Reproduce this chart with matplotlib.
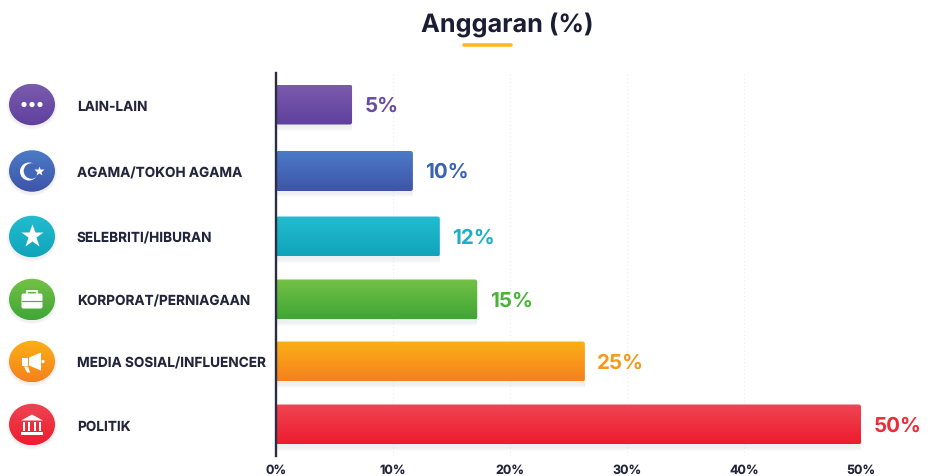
import matplotlib
matplotlib.use('Agg')
import matplotlib.pyplot as plt
import numpy as np
from matplotlib.colors import LinearSegmentedColormap
from matplotlib.patches import Ellipse, FancyBboxPatch, Circle, Polygon, Rectangle

W, H = 930, 477

categories = ['LAIN-LAIN', 'AGAMA/TOKOH AGAMA', 'SELEBRITI/HIBURAN',
              'KORPORAT/PERNIAGAAN', 'MEDIA SOSIAL/INFLUENCER', 'POLITIK']
# bars are not quite to scale in the original, so lengths and labels differ
bar_lengths = [6.5, 11.7, 14.0, 17.2, 26.4, 50.0]
value_labels = ['5%', '10%', '12%', '15%', '25%', '50%']
x_ticks = [0, 10, 20, 30, 40, 50]
x_tick_labels = ['0%', '10%', '20%', '30%', '40%', '50%']

# layout, in pixels of the reference
row_y = [105.5, 172, 237.5, 300.5, 362.5, 425.5]
top_colors = ['#7a5bad', '#4b7bc6', '#22bccf', '#74c145', '#fbb015', '#ef4553']
bottom_colors = ['#5f409e', '#3f54a8', '#10a4ba', '#3fa636', '#f5811f', '#ec1c2e']
label_colors = ['#6a4ba3', '#3a62b4', '#1cb0c8', '#4cb339', '#f6981c', '#ee2c37']
DARK = '#23263b'
WHITE = 'white'
PX_PER_UNIT = (861 - 276) / 50

plt.rcParams['font.family'] = ['Inter', 'DejaVu Sans']
plt.rcParams['text.hinting'] = 'no_hinting'


def gradient_fill(ax, patch, extent, top, bottom, zorder):
    cmap = LinearSegmentedColormap.from_list('g', [top, bottom])
    grad = np.linspace(0, 1, 64).reshape(-1, 1)
    im = ax.imshow(grad, cmap=cmap, extent=extent, aspect='auto',
                   origin='upper', zorder=zorder, interpolation='bilinear')
    im.set_clip_path(patch)


def draw_icon(ax, i, cx, cy):
    z = 5
    if i == 0:
        for dx in (-8, 0, 8):
            ax.add_patch(Circle((cx + dx, cy), 2.6, fc=WHITE, ec='none', zorder=z))
    elif i == 1:
        ax.add_patch(Circle((cx - 3, cy + 0.5), 9, fc=WHITE, ec='none', zorder=z))
        ax.add_patch(Circle((cx - 0.5, cy), 7.8, fc='#4468b8', ec='none', zorder=z))
        ax.plot(cx + 7, cy, marker='*', ms=7, mfc=WHITE, mec='none', zorder=z)
    elif i == 2:
        ax.plot(cx, cy - 0.5, marker='*', ms=17, mfc=WHITE, mec='none', zorder=z)
    elif i == 3:
        ax.add_patch(FancyBboxPatch((cx - 10.5, cy - 6), 21, 15, boxstyle='round,pad=0,rounding_size=2',
                                    fc=WHITE, ec='none', zorder=z))
        ax.add_patch(Rectangle((cx - 5, cy - 9), 10, 4, fc='none', ec=WHITE, lw=1.3, zorder=z))
        ax.plot([cx - 10.5, cx + 10.5], [cy + 1, cy + 1], color='#55b23d', lw=0.9, zorder=z + 1)
    elif i == 4:
        ax.add_patch(Polygon([(cx - 3, cy - 4), (cx + 9, cy - 9), (cx + 9, cy + 9), (cx - 3, cy + 4)],
                             fc=WHITE, ec='none', zorder=z))
        ax.add_patch(Rectangle((cx - 10, cy - 4), 6, 8, fc=WHITE, ec='none', zorder=z))
        ax.add_patch(Polygon([(cx - 8, cy + 5), (cx - 4, cy + 5), (cx - 2, cy + 11), (cx - 5, cy + 11)],
                             fc=WHITE, ec='none', zorder=z))
        ax.add_patch(Circle((cx + 11, cy), 1.6, fc=WHITE, ec='none', zorder=z))
    else:
        ax.add_patch(Polygon([(cx - 11, cy - 4), (cx, cy - 10), (cx + 11, cy - 4)],
                             fc=WHITE, ec='none', zorder=z))
        for dx in (-8, -3, 3, 8):
            ax.add_patch(Rectangle((cx + dx - 1.2, cy - 3), 2.4, 9, fc=WHITE, ec='none', zorder=z))
        ax.add_patch(Rectangle((cx - 11, cy + 7), 22, 3, fc=WHITE, ec='none', zorder=z))


fig = plt.figure(figsize=(W / 100, H / 100), dpi=100, facecolor='white')

# pixel overlay for the title and the round icons
ax_px = fig.add_axes([0, 0, 1, 1], zorder=1)
ax_px.axis('off')

ax_px.text(507, 24.5, 'Anggaran (%)', ha='center', va='center', fontsize=18.2,
           fontweight='bold', color='#1a1d33')
ax_px.plot([464, 511], [45.5, 45.5], color='#fbb91f', lw=2.6, solid_capstyle='round')

for i, y in enumerate(row_y):
    for k in range(1, 6):
        ax_px.add_patch(Ellipse((32, y + 2), 46 + k, 41 + k, fc='#8a8f9c', ec='none', alpha=0.025, zorder=1))
    oval = Ellipse((32, y), 46, 41.5, fc='none', ec='none', zorder=2)
    ax_px.add_patch(oval)
    gradient_fill(ax_px, oval, (9, 55, y + 21, y - 21), top_colors[i], bottom_colors[i], 3)
    draw_icon(ax_px, i, 32, y)

ax_px.set_xlim(0, W)
ax_px.set_ylim(H, 0)

# main chart, y axis kept in reference pixels so the rows land where they should
ax = fig.add_axes([276 / W, 1 - 457 / H, (861 - 276) / W, (457 - 74) / H], zorder=2)
ax.patch.set_alpha(0)

bars = ax.barh(row_y, bar_lengths, height=40, color='none', zorder=3)
for i, bar in enumerate(bars):
    x0, y0, w, h = bar.get_x(), bar.get_y(), bar.get_width(), bar.get_height()
    for k in range(1, 5):
        ax.add_patch(Rectangle((x0, y0 + 2), w, h + k, fc='#70757f', ec='none',
                               alpha=0.022, zorder=2))
    shape = FancyBboxPatch((x0, y0), w, h, boxstyle='round,pad=0,rounding_size=0.2',
                           mutation_aspect=PX_PER_UNIT, fc='none', ec='none', zorder=2)
    ax.add_patch(shape)
    gradient_fill(ax, shape, (x0, x0 + w, y0 + h, y0), top_colors[i], bottom_colors[i], 3)
    ax.annotate(value_labels[i], (w, row_y[i] + 0.5), xytext=(9, 0), textcoords='offset points',
                ha='left', va='center', fontsize=14.8, fontweight='bold',
                color=label_colors[i], annotation_clip=False)

ax.set_xlim(0, 50)
ax.set_ylim(457, 74)
ax.set_xticks(x_ticks, x_tick_labels, fontsize=9, fontweight='bold', color=DARK)
ax.set_yticks(row_y, categories, fontsize=9.8, fontweight='bold', color=DARK, ha='left')
ax.tick_params(axis='both', length=0)
ax.tick_params(axis='x', pad=5.5)
ax.tick_params(axis='y', pad=143.5)
ax.grid(axis='x', color='#eceef1', lw=0.8, ls=(0, (1, 2.5)), zorder=0)
for name in ('top', 'right', 'bottom'):
    ax.spines[name].set_visible(False)
ax.spines['left'].set_color('#2b2d42')
ax.spines['left'].set_linewidth(1.7)
ax.spines['left'].set_zorder(6)

fig.savefig('out.png', dpi=100)
